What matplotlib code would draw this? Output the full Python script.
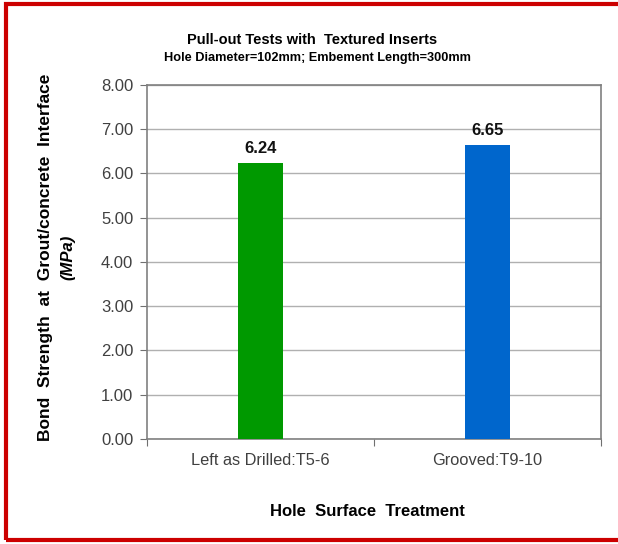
import matplotlib
matplotlib.use('Agg')
import matplotlib.pyplot as plt
from matplotlib.patches import Rectangle

# Data
categories = ['Left as Drilled:T5-6', 'Grooved:T9-10']
strength = [6.24, 6.65]
bar_colors = ['#009900', '#0066cc']
yticks = [0, 1, 2, 3, 4, 5, 6, 7, 8]

plt.rcParams['font.family'] = ['Liberation Sans', 'DejaVu Sans']

fig = plt.figure(figsize=(6.18, 5.44), dpi=100)
ax = fig.add_axes([0.238, 0.193, 0.7345, 0.651])

x = range(len(categories))
ax.bar(x, strength, width=0.2, color=bar_colors, zorder=3)
for xi, v in zip(x, strength):
    ax.text(xi, v + 0.15, f'{v:.2f}', ha='center', va='bottom',
            fontsize=12, fontweight='bold', color='#111111')

ax.set_xlim(-0.5, 1.5)
ax.set_ylim(0, 8)
ax.set_yticks(yticks)
ax.set_yticklabels([f'{t:.2f}' for t in yticks], fontsize=12, color='#404040')
ax.yaxis.grid(True, color='#b0b0b0', lw=1, zorder=0)

# category boundary ticks on x
ax.set_xticks([-0.5, 0.5, 1.5])
ax.set_xticklabels([])
ax.set_xticks(list(x), minor=True)
ax.set_xticklabels(categories, minor=True, fontsize=11.8, color='#404040')
ax.tick_params(axis='x', which='minor', length=0, pad=10)
ax.tick_params(axis='x', which='major', length=5, color='#707070')
ax.tick_params(axis='y', length=5, color='#707070', pad=5)

for s in ax.spines.values():
    s.set_color('#808080')
    s.set_linewidth(1.2)

fig.text(0.594, 0.059, 'Hole  Surface  Treatment', ha='center', va='center',
         fontsize=12, fontweight='bold')

fig.text(0.073, 0.527, 'Bond  Strength  at  Grout/concrete  Interface',
         rotation=90, ha='center', va='center', fontsize=12.5, fontweight='bold')
fig.text(0.11, 0.527, '(MPa)', rotation=90, ha='center', va='center',
         fontsize=12, fontweight='bold', style='italic')

fig.text(0.505, 0.927, 'Pull-out Tests with  Textured Inserts', ha='center', va='center',
         fontsize=10.5, fontweight='bold')
fig.text(0.514, 0.893, 'Hole Diameter=102mm; Embement Length=300mm', ha='center', va='center',
         fontsize=9.2, fontweight='bold')

# red frame around the chart
fig.patches.append(Rectangle((0.009, 0.007), 1.2, 0.985, transform=fig.transFigure,
                             fill=False, edgecolor='#cc0000', lw=3))

fig.savefig('out.png', dpi=100)
